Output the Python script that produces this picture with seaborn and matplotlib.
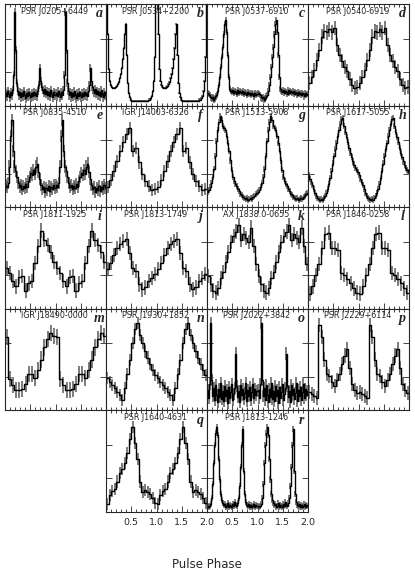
import numpy as np
import matplotlib
matplotlib.use('Agg')
import matplotlib.pyplot as plt
import seaborn as sns
from matplotlib.ticker import MultipleLocator

# one pulse cycle per source, in percent of the panel height (drawn twice: phase 0-2)
j0205 = [12, 9, 14, 11, 8, 13, 10, 15, 30, 92, 55, 22, 14, 10, 13, 8, 12, 9, 14, 10,
         7, 12, 9, 13, 10, 8, 12, 9, 13, 10, 12, 9, 14, 20, 37, 24, 18, 15, 12, 16,
         11, 14, 10, 13, 9, 15, 11, 8, 13, 10]
j0534 = [140, 70, 36, 24, 20, 18, 17, 17, 17, 18, 19, 21, 23, 27, 31, 37, 46, 57, 70, 80,
         50, 22, 12, 8, 6, 5, 5, 5, 5, 5, 5, 5, 5, 5, 5, 5, 5, 5, 5, 5,
         5, 5, 6, 6, 7, 9, 14, 24, 48, 110]
j0537 = [12, 11, 10, 8, 7, 8, 6, 7, 9, 10, 14, 20, 28, 38, 48, 58, 70, 80, 84, 72,
         50, 28, 16, 14, 13, 15, 12, 14, 13, 11, 15, 12, 14, 13, 12, 14, 11, 13, 12, 10,
         13, 11, 12, 10, 12, 11, 9, 12, 10, 11]
j0540 = [22, 28, 35, 45, 55, 68, 73, 72, 75, 72, 76, 60, 50, 44, 38, 34, 26, 20, 17, 18]
j0835 = [22, 20, 24, 40, 70, 86, 55, 40, 36, 30, 24, 20, 22, 18, 21, 19, 23, 20, 26, 30,
         34, 32, 37, 33, 40, 43, 35, 28, 22, 18, 20, 15, 19, 17, 21, 16, 20, 18, 22, 19]
j14003 = [20, 27, 36, 45, 55, 64, 72, 78, 55, 58, 44, 33, 26, 21, 17, 18]
j1513 = [15, 17, 20, 24, 30, 38, 50, 65, 76, 84, 90, 86, 80, 78, 76, 70, 63, 55, 46, 37,
         30, 26, 23, 21, 18, 16, 13, 12, 10, 9, 8, 9, 7, 8, 9, 8, 10, 11, 13, 14]
j1617 = [32, 28, 25, 22, 18, 14, 11, 9, 8, 7, 8, 7, 9, 11, 14, 18, 23, 29, 36, 43,
         50, 57, 63, 70, 76, 82, 87, 88, 80, 74, 69, 64, 58, 53, 49, 45, 42, 39, 37, 35]
j1811 = [40, 35, 27, 22, 31, 32, 18, 25, 27, 45, 62, 77, 68, 63, 56, 46]
j1813 = [39, 45, 53, 60, 64, 67, 69, 55, 40, 37, 24, 19, 21, 27, 30, 34]
j1838 = [32, 24, 18, 16, 20, 30, 36, 46, 56, 66, 72, 76, 82, 68, 74, 70, 66, 80, 62, 44]
j1846 = [15, 22, 33, 44, 60, 74, 75, 60, 60, 58, 35, 33, 29, 25, 20, 16]
j18490 = [72, 31, 25, 20, 20, 21, 26, 36, 36, 32, 40, 50, 62, 70, 76, 73]
j1930 = [32, 28, 25, 22, 18, 15, 10, 22, 36, 50, 66, 80, 86, 74, 66, 58, 52, 46, 40, 35]
j2022 = [20, 12, 26, 86, 30, 14, 22, 10, 25, 15, 8, 21, 13, 27, 11, 19, 9, 24, 14, 20,
         7, 23, 12, 18, 26, 10, 16, 22, 56, 24, 13, 19, 8, 25, 15, 21, 11, 17, 27, 9,
         20, 14, 23, 10, 18, 26, 12, 21, 15, 19]
j2229 = [18, 16, 14, 12, 84, 72, 50, 36, 34, 28, 24, 30, 36, 46, 54, 60, 42, 26, 20, 17]
j1640 = [8, 17, 21, 23, 30, 38, 42, 48, 58, 72, 84, 68, 52, 30, 20, 22, 20, 18, 14, 9]
j1813b = [6, 5, 6, 8, 14, 28, 48, 66, 78, 84, 76, 52, 32, 18, 12, 9, 7, 8, 5, 6,
          9, 5, 7, 6, 5, 8, 6, 10, 7, 6, 9, 14, 26, 44, 66, 82, 40, 18, 10, 7,
          6, 8, 5, 7, 5, 6, 8, 5, 7, 6]

profiles = [j0205, j0534, j0537, j0540, j0835, j14003, j1513, j1617, j1811, j1813,
            j1838, j1846, j18490, j1930, j2022, j2229, j1640, j1813b]
errors = [4, 1, 3, 7, 6, 6, 3, 3, 7, 7, 7, 7, 8, 6, 6, 7, 6, 3]
names = ['PSR J0205+6449', 'PSR J0534+2200', 'PSR J0537-6910', 'PSR J0540-6919',
         'PSR J0835-4510', 'IGR J14003-6326', 'PSR J1513-5908', 'PSR J1617-5055',
         'PSR J1811-1925', 'PSR J1813-1749', 'AX J1838.0-0655', 'PSR J1846-0258',
         'IGR J18490-0000', 'PSR J1930+1852', 'PSR J2022+3842', 'PSR J2229+6114',
         'PSR J1640-4631', 'PSR J1813-1246']
letters = list('abcdefghijklmnopqr')
slots = [(r, c) for r in range(4) for c in range(4)] + [(4, 1), (4, 2)]

sns.set_style('ticks')
plt.rcParams['font.family'] = ['DejaVu Sans']

fig, axes = plt.subplots(5, 4, figsize=(4.15, 5.74), dpi=100)
fig.subplots_adjust(left=5/415, right=409/415, top=1-4/574, bottom=1-512/574,
                    wspace=0, hspace=0)
axes[4, 0].axis('off')
axes[4, 3].axis('off')


def draw_profile(ax, cycle, err, name, letter, bottom):
    n = len(cycle)
    y = np.concatenate([cycle, cycle]).astype(float)
    xc = (np.arange(2 * n) + 0.5) / n
    xe = np.arange(2 * n + 1) / n
    ye = np.append(y, y[-1])
    ax.errorbar(xc, y, yerr=err, fmt='none', ecolor='0.35', elinewidth=1.1, zorder=1)
    sns.lineplot(x=xe, y=ye, drawstyle='steps-post', color='k', lw=1.0,
                 estimator=None, ax=ax, zorder=2)
    ax.set_xlim(0, 2)
    ax.set_ylim(0, 100)
    ax.set_xlabel('')
    ax.set_ylabel('')
    ax.xaxis.set_major_locator(MultipleLocator(0.5))
    ax.xaxis.set_minor_locator(MultipleLocator(0.1))
    ax.set_yticks([33, 66])
    ax.tick_params(which='both', direction='in', top=True, right=True,
                   labelleft=False, labelbottom=bottom, width=0.6)
    ax.tick_params(which='major', length=4)
    ax.tick_params(which='minor', length=2)
    if bottom:
        ax.set_xticks([0, 0.5, 1, 1.5, 2])
        ax.set_xticklabels(['', '0.5', '1.0', '1.5', '2.0'], fontsize=6.8)
        ax.tick_params(axis='x', pad=4)
    for sp in ax.spines.values():
        sp.set_linewidth(0.8)
    ax.text(0.49, 0.93, name, ha='center', va='center', fontsize=5.8,
            transform=ax.transAxes)
    ax.text(0.935, 0.905, letter, ha='center', va='center', fontsize=10,
            family='Liberation Serif', style='italic', weight='bold',
            transform=ax.transAxes)


for (r, c), prof, err, name, let in zip(slots, profiles, errors, names, letters):
    draw_profile(axes[r, c], prof, err, name, let, r == 4)

fig.text(0.498, 1 - 564/574, 'Pulse Phase', ha='center', va='center', fontsize=8.5)

fig.savefig('out.png', dpi=100)
